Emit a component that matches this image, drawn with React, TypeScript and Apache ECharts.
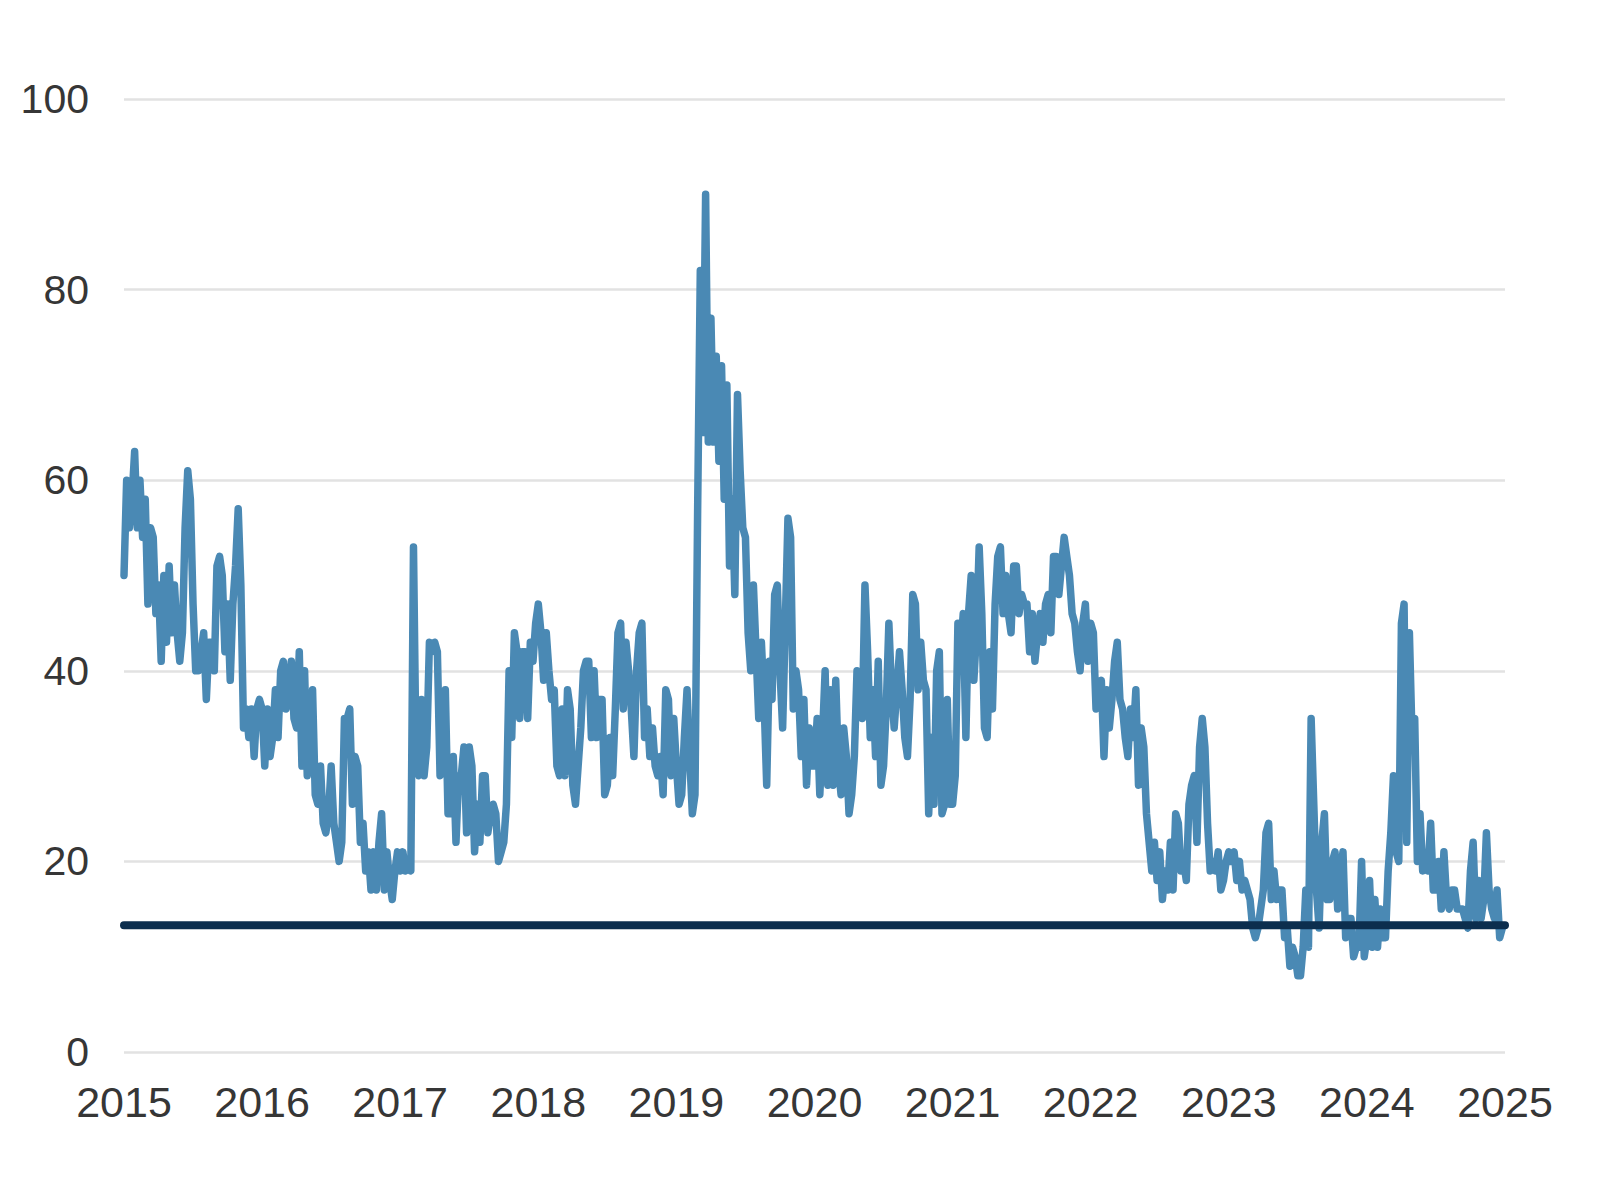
import React, { useEffect, useRef } from "react";
import * as echarts from "echarts";

// Weekly readings, one array per calendar year
const years = [2015, 2016, 2017, 2018, 2019, 2020, 2021, 2022, 2023, 2024];

const y2015 = [50, 60, 55, 58, 63, 55, 60, 54, 58, 47, 55, 54, 46, 49, 41, 50, 43, 51, 44, 49, 44, 41, 44, 55, 61, 58, 47, 40, 40, 42, 44, 37, 43, 43, 40, 51, 52, 50, 42, 47, 39, 47, 51, 57, 49, 34, 36, 33, 36, 31, 36, 37];
const y2016 = [36, 30, 36, 31, 33, 38, 33, 40, 41, 36, 38, 41, 35, 34, 42, 30, 40, 29, 31, 38, 27, 26, 30, 24, 23, 25, 30, 24, 22, 20, 22, 35, 35, 36, 26, 31, 30, 22, 24, 19, 21, 17, 21, 17, 22, 25, 17, 21, 18, 16, 19, 21];
const y2017 = [19, 21, 19, 20, 19, 53, 30, 29, 37, 29, 32, 43, 42, 43, 42, 29, 34, 38, 25, 25, 31, 22, 29, 29, 32, 23, 32, 30, 21, 26, 22, 29, 29, 23, 25, 26, 25, 20, 21, 22, 26, 40, 33, 44, 42, 35, 42, 42, 35, 43, 41, 45];
const y2018 = [47, 44, 39, 44, 40, 37, 38, 30, 29, 36, 29, 38, 36, 28, 26, 30, 34, 40, 41, 41, 33, 40, 33, 37, 37, 27, 28, 33, 29, 36, 44, 45, 36, 43, 40, 36, 31, 40, 44, 45, 33, 36, 31, 34, 30, 29, 31, 27, 38, 37, 29, 35];
const y2019 = [30, 26, 27, 33, 38, 31, 25, 27, 57, 82, 65, 90, 64, 77, 64, 73, 62, 72, 58, 70, 51, 58, 48, 69, 61, 55, 54, 44, 40, 49, 42, 35, 43, 37, 28, 41, 37, 48, 49, 40, 34, 45, 56, 54, 36, 40, 38, 31, 37, 28, 34, 30];
const y2020 = [30, 35, 27, 33, 40, 28, 38, 28, 39, 30, 27, 34, 31, 25, 27, 31, 40, 37, 35, 49, 42, 33, 38, 31, 41, 28, 30, 36, 45, 38, 34, 38, 42, 38, 33, 31, 37, 48, 47, 38, 43, 39, 38, 25, 33, 26, 40, 42, 25, 26, 37, 26];
const y2021 = [26, 29, 45, 42, 46, 33, 46, 50, 39, 44, 53, 46, 34, 33, 42, 36, 47, 52, 53, 46, 50, 46, 44, 51, 51, 46, 48, 47, 47, 42, 46, 41, 44, 46, 43, 47, 48, 44, 52, 52, 48, 51, 54, 52, 50, 46, 45, 42, 40, 45, 47, 41];
const y2022 = [45, 44, 36, 38, 39, 31, 38, 34, 37, 41, 43, 37, 36, 33, 31, 36, 33, 38, 28, 34, 32, 25, 22, 19, 22, 18, 21, 16, 19, 17, 22, 17, 25, 24, 19, 20, 18, 26, 28, 29, 22, 32, 35, 32, 24, 19, 20, 19, 21, 17, 18, 20];
const y2023 = [21, 20, 21, 18, 20, 17, 18, 17, 16, 13, 12, 13, 15, 17, 23, 24, 16, 19, 16, 17, 17, 12, 13, 9, 11, 10, 8, 8, 11, 17, 11, 35, 26, 17, 13, 22, 25, 16, 16, 20, 21, 15, 19, 21, 12, 14, 14, 10, 11, 11, 20, 10];
const y2024 = [12, 18, 11, 16, 11, 15, 12, 12, 19, 23, 29, 21, 20, 45, 47, 22, 44, 33, 35, 20, 25, 19, 20, 19, 24, 17, 17, 20, 15, 21, 16, 15, 17, 17, 15, 15, 15, 14, 13, 19, 22, 14, 18, 14, 16, 23, 17, 15, 14, 17, 12, 13];

const benchmark = 13.3;
const xStart = 2015;
const xEnd = 2025;

export default function App() {
  const ref = useRef<HTMLDivElement>(null);

  useEffect(() => {
    if (!ref.current) return;
    const chart = echarts.init(ref.current, null, { renderer: "svg" });
    const byYear = [y2015, y2016, y2017, y2018, y2019, y2020, y2021, y2022, y2023, y2024];
    const data: number[][] = [];
    byYear.forEach((vals, k) => {
      vals.forEach((v, i) => data.push([years[k] + i / vals.length, v]));
    });

    const font = "'Liberation Sans', Arial, sans-serif";
    chart.setOption({
      animation: false,
      backgroundColor: "#ffffff",
      grid: { left: 124, right: 118, top: 99, bottom: 147 },
      xAxis: {
        type: "value",
        min: xStart,
        max: xEnd,
        interval: 1,
        axisLine: { show: false },
        axisTick: { show: false },
        splitLine: { show: false },
        axisLabel: {
          formatter: (v: number) => String(v),
          fontSize: 43,
          color: "#363636",
          fontFamily: font,
          margin: 28,
        },
      },
      yAxis: {
        type: "value",
        min: 0,
        max: 100,
        interval: 20,
        axisLine: { show: false },
        axisTick: { show: false },
        axisLabel: {
          fontSize: 41,
          color: "#363636",
          fontFamily: font,
          margin: 35,
        },
        splitLine: { lineStyle: { color: "#e2e2e2", width: 2.5 } },
      },
      series: [
        {
          type: "line",
          data,
          showSymbol: false,
          symbol: "none",
          silent: true,
          lineStyle: { color: "#4a89b4", width: 7.5, cap: "round", join: "round" },
          z: 2,
        },
        {
          type: "line",
          data: [
            [xStart, benchmark],
            [xEnd, benchmark],
          ],
          showSymbol: false,
          symbol: "none",
          silent: true,
          lineStyle: { color: "#0c2e4e", width: 8, cap: "round" },
          z: 3,
        },
      ],
    });
    return () => chart.dispose();
  }, []);

  return (
    <div
      ref={ref}
      style={{ position: "fixed", left: 0, top: 0, width: 1623, height: 1199, background: "#fff" }}
    />
  );
}
